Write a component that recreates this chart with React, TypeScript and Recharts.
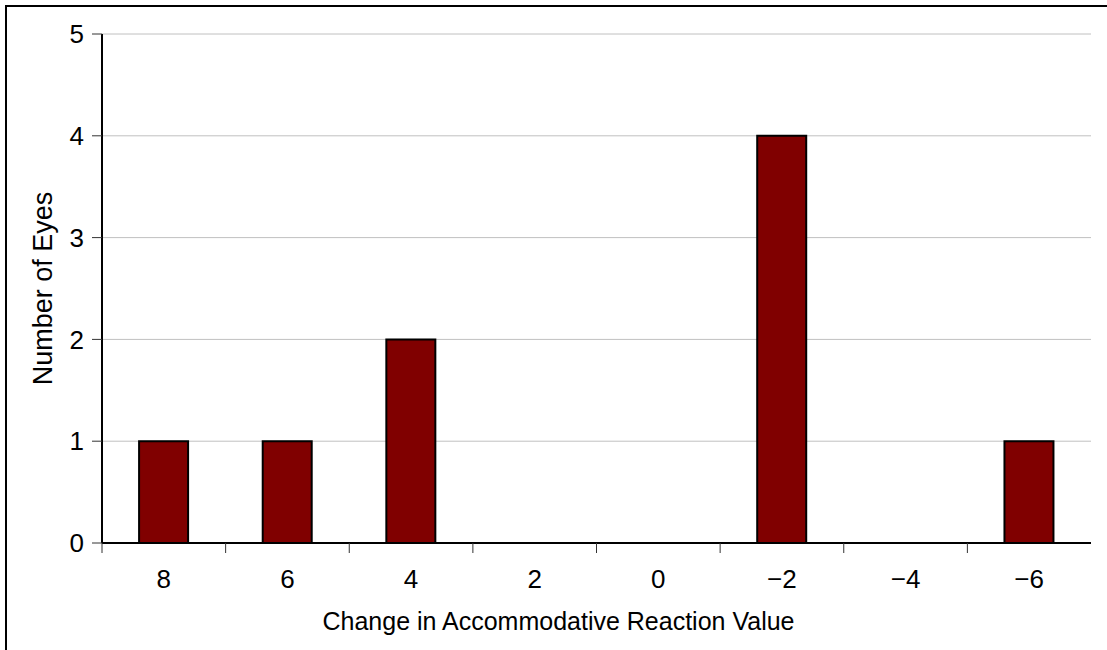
import { BarChart, Bar, XAxis, YAxis, CartesianGrid } from "recharts";

const categories = ["8", "6", "4", "2", "0", "−2", "−4", "−6"];
const eyeCounts = [1, 1, 2, 0, 0, 4, 0, 1];
const yTicks = [0, 1, 2, 3, 4, 5];

const data = categories.map((c, i) => ({ change: c, eyes: eyeCounts[i] }));

const TICK_SIZE = 10;
const TICK_MARGIN = 8;

// category ticks: label in the middle of the band, tick mark at its left edge
function BandTick(props: any) {
  const { x, y, payload } = props;
  const half = payload?.offset ?? 61.8;
  const axisY = y - TICK_SIZE - TICK_MARGIN;
  return (
    <g>
      <line x1={x - half} x2={x - half} y1={axisY} y2={axisY + TICK_SIZE} stroke="#333" strokeWidth={1} />
      <text x={x} y={axisY + 45} textAnchor="middle" fontSize={26} fill="#000">
        {payload.value}
      </text>
    </g>
  );
}

export default function App() {
  return (
    <div
      style={{
        position: "fixed",
        left: 0,
        top: 0,
        width: 1107,
        height: 650,
        overflow: "hidden",
        background: "#fff",
        fontFamily: "'Liberation Sans', Arial, sans-serif",
      }}
    >
      {/* outer frame, right/bottom edges fall outside the picture */}
      <div
        style={{
          position: "absolute",
          left: 5,
          top: 5,
          width: 1200,
          height: 700,
          border: "2px solid #000",
        }}
      />
      <div style={{ position: "absolute", left: 0, top: 0 }}>
        <BarChart
          width={1107}
          height={650}
          data={data}
          margin={{ top: 34, right: 16, bottom: 0, left: 0 }}
          barCategoryGap="30%"
        >
          <CartesianGrid horizontal vertical={false} stroke="#c0c0c0" strokeWidth={1} />
          <XAxis
            dataKey="change"
            height={107}
            axisLine={{ stroke: "#000", strokeWidth: 2 }}
            tickLine={false}
            tickSize={TICK_SIZE}
            tickMargin={TICK_MARGIN}
            tick={<BandTick />}
            interval={0}
            label={{
              value: "Change in Accommodative Reaction Value",
              position: "insideBottom",
              offset: 20,
              dx: -38,
              fontSize: 25,
              fill: "#000",
            }}
          />
          <XAxis
            xAxisId="top"
            orientation="top"
            dataKey="change"
            height={0}
            tick={false}
            tickLine={false}
            axisLine={{ stroke: "#000", strokeWidth: 2 }}
          />
          <YAxis
            width={102}
            domain={[0, 5]}
            ticks={yTicks}
            allowDecimals={false}
            axisLine={{ stroke: "#000", strokeWidth: 2 }}
            tickLine={{ stroke: "#333", strokeWidth: 1 }}
            tickSize={TICK_SIZE}
            tickMargin={TICK_MARGIN}
            tick={{ fontSize: 26, fill: "#000" }}
            label={{
              value: "Number of Eyes",
              angle: -90,
              position: "insideLeft",
              offset: 42,
              fontSize: 27,
              fill: "#000",
              style: { textAnchor: "middle" },
            }}
          />
          <YAxis
            yAxisId="right"
            orientation="right"
            width={0}
            domain={[0, 5]}
            tick={false}
            tickLine={false}
            axisLine={{ stroke: "#000", strokeWidth: 2 }}
          />
          <Bar
            dataKey="eyes"
            fill="#800000"
            stroke="#000"
            strokeWidth={2}
            isAnimationActive={false}
          />
        </BarChart>
      </div>
    </div>
  );
}
